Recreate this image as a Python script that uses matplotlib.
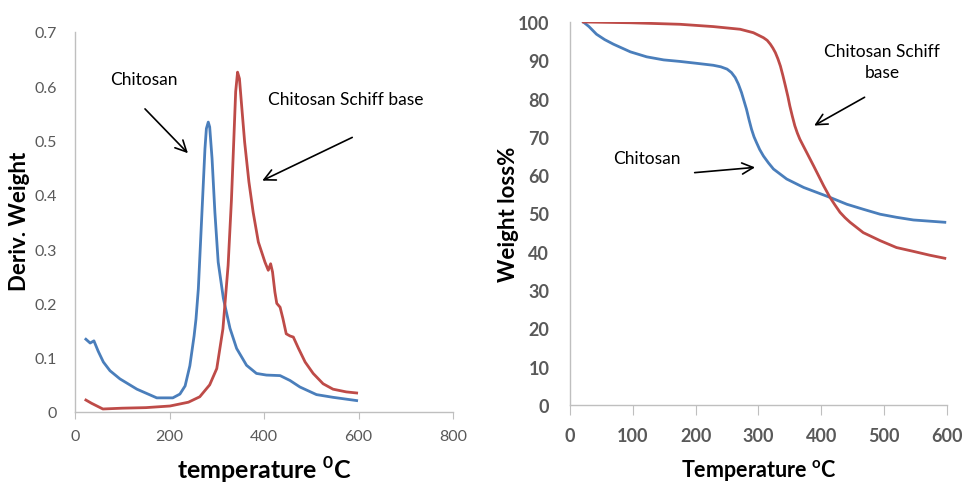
import matplotlib
matplotlib.use("Agg")
import matplotlib.pyplot as plt

plt.rcParams['font.family'] = ['Lato', 'DejaVu Sans']
plt.rcParams['mathtext.fontset'] = 'custom'
plt.rcParams['mathtext.rm'] = 'Lato'
plt.rcParams['mathtext.bf'] = 'Lato:bold'

BLUE = '#4a7ebb'
RED = '#be4b48'
GRAY = '#595959'
AXIS = '#bfbfbf'

# DTG curves (left)
dtg_chit_t = [23, 32, 40, 49, 60, 74, 95, 131, 173, 207, 222, 233, 243, 252,
              256, 261, 268, 275, 278, 282, 285, 290, 296, 303, 314, 328,
              342, 363, 384, 405, 434, 455, 476, 511, 546, 596]
dtg_chit_v = [0.134, 0.127, 0.131, 0.112, 0.092, 0.076, 0.061, 0.042, 0.026,
              0.026, 0.033, 0.048, 0.085, 0.140, 0.171, 0.227, 0.356, 0.485,
              0.522, 0.534, 0.525, 0.467, 0.368, 0.276, 0.209, 0.154, 0.117,
              0.086, 0.071, 0.068, 0.067, 0.058, 0.046, 0.032, 0.027, 0.021]

dtg_schiff_t = [23, 35, 59, 100, 150, 201, 240, 264, 285, 300, 313, 324, 331,
                336, 340, 344, 348, 352, 359, 368, 377, 388, 402, 409, 414,
                418, 423, 427, 434, 440, 447, 455, 462, 473, 487, 504, 525,
                546, 574, 596]
dtg_schiff_v = [0.022, 0.016, 0.0055, 0.007, 0.008, 0.011, 0.018, 0.028,
                0.050, 0.080, 0.153, 0.270, 0.390, 0.500, 0.590, 0.626,
                0.614, 0.571, 0.497, 0.424, 0.368, 0.313, 0.276, 0.261,
                0.273, 0.258, 0.221, 0.200, 0.193, 0.172, 0.144, 0.140,
                0.138, 0.117, 0.092, 0.071, 0.052, 0.042, 0.037, 0.035]

# TGA curves (right)
tga_chit_t = [21, 30, 42, 55, 69, 96, 122, 149, 175, 202, 228, 240, 250, 257,
              263, 268, 273, 277, 281, 285, 289, 293, 297, 302, 308, 316,
              324, 345, 372, 414, 441, 467, 494, 520, 547, 597]
tga_chit_w = [100, 98.8, 96.8, 95.4, 94.2, 92.2, 90.9, 90.1, 89.7, 89.2,
              88.7, 88.3, 87.7, 86.8, 85.5, 83.8, 81.6, 79.4, 77.2, 74.5,
              72.0, 70.0, 68.5, 66.7, 65.0, 63.2, 61.6, 59.0, 56.8, 54.2,
              52.4, 51.1, 49.8, 49.0, 48.3, 47.7]

tga_schiff_t = [21, 96, 175, 228, 271, 292, 308, 314, 319, 323, 327, 331,
                335, 339, 343, 347, 350, 354, 358, 362, 366, 371, 377, 388,
                404, 414, 422, 430, 438, 446, 467, 494, 520, 547, 573, 597]
tga_schiff_w = [100, 99.8, 99.4, 98.8, 98.1, 97.2, 95.9, 95.2, 94.2, 93.2,
                92.0, 90.4, 88.5, 86.0, 83.3, 80.5, 78.1, 75.4, 72.9, 71.0,
                69.4, 67.8, 65.9, 62.4, 57.2, 54.2, 52.2, 50.3, 48.9, 47.7,
                45.0, 42.9, 41.1, 40.1, 39.1, 38.3]

fig = plt.figure(figsize=(9.68, 4.85), dpi=100)
ax1 = fig.add_axes([0.0775, 0.1485, 0.3905, 0.7835])
ax2 = fig.add_axes([0.589, 0.163, 0.389, 0.7896])

for ax in (ax1, ax2):
    for s in ('top', 'right'):
        ax.spines[s].set_visible(False)
    for s in ('left', 'bottom'):
        ax.spines[s].set_color(AXIS)
        ax.spines[s].set_linewidth(1.0)

# left panel
ax1.plot(dtg_chit_t, dtg_chit_v, color=BLUE, lw=2.0, solid_joinstyle='round')
ax1.plot(dtg_schiff_t, dtg_schiff_v, color=RED, lw=2.0, solid_joinstyle='round')
ax1.set_xlim(0, 800)
ax1.set_ylim(0, 0.7)
ax1.set_xticks([0, 200, 400, 600, 800])
ax1.set_yticks([0, 0.1, 0.2, 0.3, 0.4, 0.5, 0.6, 0.7])
ax1.set_yticklabels(['0', '0.1', '0.2', '0.3', '0.4', '0.5', '0.6', '0.7'])
ax1.tick_params(axis='x', direction='out', length=5, color=AXIS, pad=7,
                labelsize=11.5, labelcolor=GRAY)
ax1.tick_params(axis='y', length=0, pad=13, labelsize=11.5, labelcolor=GRAY)
ax1.set_xlabel(r'temperature $^{\mathbf{0}}$C', fontsize=18,
               fontweight='bold', va='center')
ax1.xaxis.set_label_coords(0.5, -0.15)
ax1.set_ylabel('Deriv. Weight', fontsize=16, fontweight='bold', va='center')
ax1.yaxis.set_label_coords(-0.146, 0.503)

ax1.text(74, 0.613, 'Chitosan', fontsize=12.5, va='center', ha='left')
ax1.annotate('', xy=(243, 0.473), xytext=(144, 0.562),
             arrowprops=dict(arrowstyle='->', color='black', lw=1.2,
                             mutation_scale=20))
ax1.text(408, 0.576, 'Chitosan Schiff base', fontsize=12.5, va='center',
         ha='left')
ax1.annotate('', xy=(391, 0.424), xytext=(592, 0.508),
             arrowprops=dict(arrowstyle='->', color='black', lw=1.2,
                             mutation_scale=20))

# right panel
ax2.plot(tga_chit_t, tga_chit_w, color=BLUE, lw=2.0, solid_joinstyle='round')
ax2.plot(tga_schiff_t, tga_schiff_w, color=RED, lw=2.0, solid_joinstyle='round')
ax2.set_xlim(0, 600)
ax2.set_ylim(0, 100)
ax2.set_xticks(range(0, 601, 100))
ax2.set_yticks(range(0, 101, 10))
ax2.tick_params(axis='x', direction='out', length=7, color=AXIS, pad=9,
                labelsize=13, labelcolor=GRAY)
ax2.tick_params(axis='y', length=0, pad=15, labelsize=13, labelcolor=GRAY)
for lab in ax2.get_xticklabels() + ax2.get_yticklabels():
    lab.set_fontweight('bold')
ax2.set_xlabel(r'Temperature $^{\mathbf{o}}$C', fontsize=15.5,
               fontweight='bold', va='center')
ax2.xaxis.set_label_coords(0.5, -0.168)
ax2.set_ylabel('Weight loss%', fontsize=16, fontweight='bold', va='center')
ax2.yaxis.set_label_coords(-0.164, 0.50)

ax2.text(497, 89.6, 'Chitosan Schiff\nbase', fontsize=12.5, va='center',
         ha='center', linespacing=1.4)
ax2.annotate('', xy=(385, 72.6), xytext=(473, 80.7),
             arrowprops=dict(arrowstyle='->', color='black', lw=1.2,
                             mutation_scale=20))
ax2.text(123, 64.5, 'Chitosan', fontsize=12.5, va='center', ha='center')
ax2.annotate('', xy=(299, 62.1), xytext=(194, 60.6),
             arrowprops=dict(arrowstyle='->', color='black', lw=1.2,
                             mutation_scale=20))

fig.savefig('out.png', dpi=100)
